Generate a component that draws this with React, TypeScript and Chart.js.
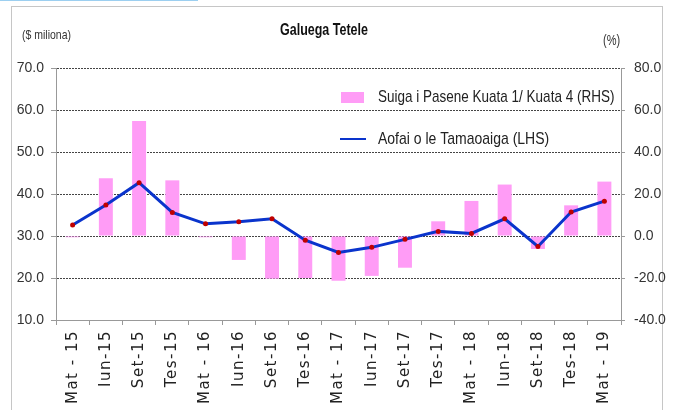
import React, { useEffect, useRef } from "react";
import Chart from "chart.js/auto";
import { CategoryScale } from "chart.js";

const categories = [
  "Mat - 15", "Iun-15", "Set-15", "Tes-15",
  "Mat - 16", "Iun-16", "Set-16", "Tes-16",
  "Mat - 17", "Iun-17", "Set-17", "Tes-17",
  "Mat - 18", "Iun-18", "Set-18", "Tes-18",
  "Mat - 19",
];
// Aofai o le Tamaoaiga (LHS, $ miliona)
const totalValue = [32.6, 37.4, 42.7, 35.6, 32.9, 33.4, 34.1, 29.0, 26.1, 27.3, 29.2, 31.1, 30.6, 34.1, 27.5, 35.7, 38.3];
// Suiga i Pasene Kuata 1/ Kuata 4 (RHS, %)
const pctChange = [-0.6, 27.5, 54.8, 26.5, -0.6, -11.4, -20.3, -20.0, -21.3, -19.0, -15.1, 7.0, 16.7, 24.5, -6.2, 14.6, 25.9];

const leftAxis = { min: 10, max: 70, step: 10 };
const rightAxis = { min: -40, max: 80, step: 20 };

const titleText = "Galuega Tetele";
const leftUnit = "($ miliona)";
const rightUnit = "(%)";
const barLabel = "Suiga i Pasene Kuata 1/ Kuata 4 (RHS)";
const lineLabel = "Aofai o le Tamaoaiga (LHS)";

const PINK = "#FF9CF6";
const BLUE = "#0A34CC";
const SANS = "'Liberation Sans', Arial, sans-serif";

class SpacedCategoryScale extends (CategoryScale as any) {
  static id = "spacedCategory";
  static defaults = (CategoryScale as any).defaults;
  drawLabels(area: any) {
    const ctx = (this as any).ctx;
    ctx.save();
    try { ctx.letterSpacing = "1.5px"; } catch (e) {}
    super.drawLabels(area);
    ctx.restore();
  }
}
Chart.register(SpacedCategoryScale as any);

function tallText(ctx: any, text: string, x: number, y: number, font: string, sy: number) {
  ctx.save();
  ctx.font = font;
  ctx.translate(x, y);
  ctx.scale(1, sy);
  ctx.fillText(text, 0, 0);
  ctx.restore();
}

const decorPlugin = {
  id: "decor",
  afterDraw(chart: any) {
    const ctx = chart.ctx;
    ctx.save();
    ctx.textBaseline = "middle";
    ctx.fillStyle = "#111";
    ctx.textAlign = "center";
    tallText(ctx, titleText, 324, 31, `bold 12.5px ${SANS}`, 1.3);
    ctx.fillStyle = "#333";
    ctx.textAlign = "left";
    tallText(ctx, leftUnit, 22, 35, `10.5px ${SANS}`, 1.3);
    tallText(ctx, rightUnit, 603, 41, `11px ${SANS}`, 1.3);

    // legend
    ctx.fillStyle = PINK;
    ctx.fillRect(341, 92, 23, 11);
    ctx.strokeStyle = BLUE;
    ctx.lineWidth = 2;
    ctx.beginPath();
    ctx.moveTo(340, 139);
    ctx.lineTo(366, 139);
    ctx.stroke();
    ctx.fillStyle = "#222";
    tallText(ctx, barLabel, 378, 98, `13.5px ${SANS}`, 1.2);
    tallText(ctx, lineLabel, 378, 139, `14px ${SANS}`, 1.2);
    ctx.restore();
  },
};

export default function App() {
  const ref = useRef<HTMLCanvasElement | null>(null);
  useEffect(() => {
    if (!ref.current) return;
    const chart = new Chart(ref.current, {
      type: "bar",
      data: {
        labels: categories,
        datasets: [
          {
            type: "line",
            label: lineLabel,
            data: totalValue,
            yAxisID: "y",
            borderColor: BLUE,
            borderWidth: 3,
            pointRadius: 2.5,
            pointBackgroundColor: "#C00000",
            pointBorderWidth: 0,
            tension: 0,
            order: 0,
          } as any,
          {
            type: "bar",
            label: barLabel,
            data: pctChange,
            yAxisID: "y1",
            backgroundColor: PINK,
            borderWidth: 0,
            barPercentage: 0.42,
            categoryPercentage: 1,
            order: 1,
          },
        ],
      },
      options: {
        animation: false,
        responsive: false,
        maintainAspectRatio: false,
        layout: { padding: { top: 68, left: 0, right: 0, bottom: 0 } },
        plugins: { legend: { display: false }, tooltip: { enabled: false }, title: { display: false } },
        scales: {
          x: {
            type: "spacedCategory",
            offset: true,
            grid: {
              display: true,
              drawOnChartArea: false,
              drawTicks: true,
              tickLength: 5,
              tickColor: "#999",
              offset: true,
            },
            border: { display: true, color: "#999", width: 1 },
            ticks: {
              minRotation: 90,
              maxRotation: 90,
              autoSkip: false,
              padding: 5,
              color: "#222",
              font: { family: "'DejaVu Sans', sans-serif", size: 15 },
            },
            afterFit: (s: any) => { s.height = 90; },
          },
          y: {
            position: "left",
            min: leftAxis.min,
            max: leftAxis.max,
            ticks: {
              stepSize: leftAxis.step,
              padding: 7,
              color: "#333",
              font: { family: SANS, size: 14 },
              callback: (v: any) => Number(v).toFixed(1),
            },
            grid: {
              color: (c: any) => (c.tick && c.tick.value === leftAxis.min ? "rgba(0,0,0,0)" : "#444"),
              lineWidth: 1,
              drawTicks: true,
              tickLength: 5,
              tickColor: "#999",
            },
            border: { display: true, color: "#999", width: 1, dash: [2, 1] },
            afterFit: (s: any) => { s.width = 56; },
          },
          y1: {
            position: "right",
            min: rightAxis.min,
            max: rightAxis.max,
            ticks: {
              stepSize: rightAxis.step,
              padding: 9,
              color: "#333",
              font: { family: SANS, size: 14 },
              callback: (v: any) => Number(v).toFixed(1),
            },
            grid: {
              drawOnChartArea: false,
              drawTicks: true,
              tickLength: 4,
              tickColor: "#999",
            },
            border: { display: true, color: "#999", width: 1 },
            afterFit: (s: any) => { s.width = 58; },
          },
        },
      } as any,
      plugins: [decorPlugin],
    });
    return () => chart.destroy();
  }, []);

  return (
    <div style={{ position: "fixed", left: 0, top: 0, width: 679, height: 410, background: "#fff", overflow: "hidden" }}>
      <div style={{ position: "absolute", left: 0, top: -10, width: 197, height: 10, border: "1px solid #9ccff0", borderTop: "none", borderLeft: "none" }} />
      <div style={{ position: "absolute", left: 11, top: 6, width: 652, height: 420, border: "1px solid #c6c6c6", boxSizing: "border-box" }} />
      <canvas ref={ref} width={679} height={410} style={{ position: "absolute", left: 0, top: 0, width: 679, height: 410 }} />
    </div>
  );
}
